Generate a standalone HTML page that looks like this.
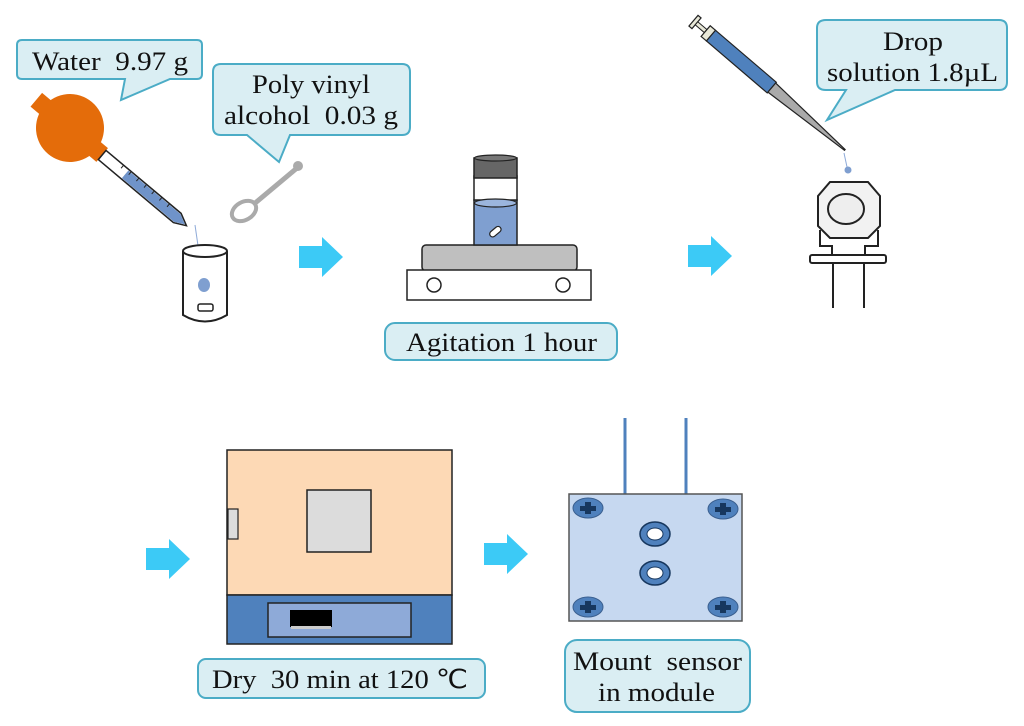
<!DOCTYPE html>
<html><head><meta charset="utf-8"><style>body{margin:0;background:#fff}svg{display:block}text{font-family:"Liberation Serif",serif;fill:#111}</style></head><body>
<svg width="1024" height="726" viewBox="0 0 1024 726" xmlns="http://www.w3.org/2000/svg">
<defs><g id="arr"><path d="M0,9 H23 V0 L44,20 L23,40 V31 H0 Z" fill="#3ccaf6"/></g></defs>
<!-- callouts -->
<path d="M22,40 H197 Q202,40 202,45 V74 Q202,79 197,79 H170 L121,100 L125,79 H22 Q17,79 17,74 V45 Q17,40 22,40 Z" fill="#daeef3" stroke="#4bacc6" stroke-width="2"/>
<text x="32" y="70" font-size="26" textLength="156" lengthAdjust="spacingAndGlyphs">Water&#160;&#160;9.97 g</text>
<path d="M221,64 H402 Q410,64 410,72 V127 Q410,135 402,135 H290 L279,162 L247,135 H221 Q213,135 213,127 V72 Q213,64 221,64 Z" fill="#daeef3" stroke="#4bacc6" stroke-width="2"/>
<text x="252" y="93" font-size="26" textLength="118" lengthAdjust="spacingAndGlyphs">Poly vinyl</text>
<text x="224" y="124" font-size="26" textLength="174" lengthAdjust="spacingAndGlyphs">alcohol&#160;&#160;0.03 g</text>
<path d="M826,20 H999 Q1007,20 1007,28 V82 Q1007,90 999,90 H895 L827,120 L846,90 H826 Q817,90 817,82 V28 Q817,20 826,20 Z" fill="#daeef3" stroke="#4bacc6" stroke-width="2"/>
<text x="883" y="50" font-size="26" textLength="60" lengthAdjust="spacingAndGlyphs">Drop</text>
<text x="827" y="81" font-size="26" textLength="171" lengthAdjust="spacingAndGlyphs">solution 1.8µL</text>
<!-- dropper -->
<g transform="translate(70,128) rotate(40)">
<rect x="-44" y="-9" width="22" height="18" fill="#e46c0a"/>
<circle cx="0" cy="0" r="34" fill="#e46c0a"/>
<rect x="28" y="-9" width="14" height="18" fill="#e46c0a"/>
<path d="M42,-6 L140,-6 L152,0 L140,6 L42,6 Z" fill="#fff" stroke="#222" stroke-width="1.5"/>
<path d="M72,-5 L140,-5 L150,0 L140,5 L72,5 Z" fill="#6f93c9"/>
<g stroke="#222" stroke-width="1"><line x1="65" y1="-6" x2="65" y2="-2"/><line x1="75" y1="-6" x2="75" y2="-2"/><line x1="85" y1="-6" x2="85" y2="-2"/><line x1="95" y1="-6" x2="95" y2="-2"/><line x1="105" y1="-6" x2="105" y2="-2"/><line x1="115" y1="-6" x2="115" y2="-2"/><line x1="125" y1="-6" x2="125" y2="-2"/></g>
</g>
<line x1="195" y1="225" x2="203" y2="280" stroke="#8eaad8" stroke-width="1"/>
<!-- spoon -->
<line x1="297" y1="168" x2="254" y2="204" stroke="#aaa" stroke-width="5" stroke-linecap="round"/>
<circle cx="298" cy="166" r="5" fill="#aaa"/>
<ellipse cx="244" cy="211" rx="13" ry="9" transform="rotate(-30 244 211)" fill="#fff" stroke="#aaa" stroke-width="4"/>
<!-- beaker -->
<path d="M183,251 V315 Q205,328 227,315 V251" fill="#fff" stroke="#222" stroke-width="2"/>
<ellipse cx="205" cy="251" rx="22" ry="6" fill="#fff" stroke="#222" stroke-width="2"/>
<ellipse cx="204" cy="285" rx="6" ry="7" fill="#7f9fd0"/>
<rect x="198" y="304" width="15" height="7" rx="2" fill="#fff" stroke="#222" stroke-width="1.5"/>
<!-- arrows -->
<use href="#arr" x="299" y="237"/>
<use href="#arr" x="688" y="236"/>
<use href="#arr" x="146" y="539"/>
<use href="#arr" x="484" y="534"/>
<!-- stirrer -->
<rect x="422" y="245" width="155" height="26" rx="4" fill="#bfbfbf" stroke="#222" stroke-width="1.5"/>
<rect x="407" y="270" width="184" height="30" fill="#fff" stroke="#222" stroke-width="1.5"/>
<circle cx="434" cy="285" r="7" fill="#fff" stroke="#222" stroke-width="1.5"/>
<circle cx="563" cy="285" r="7" fill="#fff" stroke="#222" stroke-width="1.5"/>
<rect x="474" y="200" width="43" height="45" fill="#7f9fd0" stroke="#222" stroke-width="1.5"/>
<rect x="474" y="176" width="43" height="24" fill="#fff" stroke="#222" stroke-width="1.5"/>
<ellipse cx="495.5" cy="203" rx="21" ry="4" fill="#9bb5dd" stroke="#222" stroke-width="1.2"/>
<rect x="474" y="158" width="43" height="20" fill="#666" stroke="#222" stroke-width="1.5"/>
<ellipse cx="495.5" cy="158" rx="21" ry="3" fill="#777" stroke="#222" stroke-width="1.2"/>
<rect x="489" y="229" width="13" height="6" rx="3" transform="rotate(-40 495 232)" fill="#fff" stroke="#222" stroke-width="1.2"/>
<rect x="385" y="323" width="232" height="37" rx="10" fill="#daeef3" stroke="#4bacc6" stroke-width="2"/>
<text x="406" y="351" font-size="26" textLength="191" lengthAdjust="spacingAndGlyphs">Agitation 1 hour</text>
<!-- syringe -->
<g transform="translate(695,22) rotate(40.5)">
<rect x="-2" y="-7" width="4" height="14" fill="#e8e8d8" stroke="#222" stroke-width="1.2"/>
<rect x="2" y="-2" width="12" height="4" fill="#e8e8d8" stroke="#222" stroke-width="1"/>
<rect x="14" y="-7" width="7" height="14" fill="#e8e8d8" stroke="#222" stroke-width="1.2"/>
<rect x="21" y="-7" width="80" height="14" fill="#4f81bd" stroke="#222" stroke-width="1.2"/>
<path d="M101,-6 L197,-0.5 L197,0.5 L101,6 Z" fill="#aaa" stroke="#222" stroke-width="1.2"/>
</g>
<line x1="844" y1="153" x2="847" y2="167" stroke="#8eaad8" stroke-width="1"/>
<circle cx="848" cy="170" r="3.5" fill="#7f9fd0"/>
<!-- sensor -->
<path d="M830,182 H868 L880,196 V226 L868,238 H830 L818,226 V196 Z" fill="#f2f2f2" stroke="#222" stroke-width="2"/>
<ellipse cx="846" cy="209" rx="18" ry="15" fill="#eee" stroke="#222" stroke-width="2"/>
<path d="M820,230 V246 H832 V255 M878,230 V246 H865 V255" fill="none" stroke="#222" stroke-width="2"/>
<rect x="810" y="255" width="76" height="8" rx="2" fill="#fff" stroke="#222" stroke-width="2"/>
<line x1="833" y1="263" x2="833" y2="308" stroke="#222" stroke-width="2"/>
<line x1="864" y1="263" x2="864" y2="308" stroke="#222" stroke-width="2"/>
<!-- oven -->
<rect x="227" y="450" width="225" height="145" fill="#fdd9b5" stroke="#222" stroke-width="1.5"/>
<rect x="227" y="595" width="225" height="49" fill="#4f81bd" stroke="#222" stroke-width="1.5"/>
<rect x="268" y="603" width="143" height="34" fill="#8eaad8" stroke="#222" stroke-width="1.5"/>
<rect x="290" y="610" width="42" height="17" fill="#000"/>
<rect x="291" y="626" width="40" height="3" fill="#ccc"/>
<rect x="307" y="490" width="64" height="62" fill="#dcdcdc" stroke="#222" stroke-width="1.5"/>
<rect x="228" y="509" width="10" height="30" fill="#dcdcdc" stroke="#222" stroke-width="1.2"/>
<rect x="198" y="659" width="287" height="39" rx="8" fill="#daeef3" stroke="#4bacc6" stroke-width="2"/>
<text x="212" y="688" font-size="26" textLength="256" lengthAdjust="spacingAndGlyphs">Dry&#160;&#160;30 min at 120 ℃</text>
<!-- module -->
<line x1="625" y1="418" x2="625" y2="494" stroke="#4f81bd" stroke-width="3"/>
<line x1="686" y1="418" x2="686" y2="494" stroke="#4f81bd" stroke-width="3"/>
<rect x="569" y="494" width="173" height="127" fill="#c6d8f0" stroke="#555" stroke-width="1.5"/>
<g fill="#4f81bd" stroke="#3a5f8f" stroke-width="1">
<ellipse cx="588" cy="508" rx="15" ry="10"/><ellipse cx="723" cy="509" rx="15" ry="10"/>
<ellipse cx="588" cy="607" rx="15" ry="10"/><ellipse cx="723" cy="607" rx="15" ry="10"/>
</g>
<g fill="#17375e">
<rect x="580" y="506" width="16" height="5"/><rect x="585" y="502" width="6" height="12"/>
<rect x="715" y="507" width="16" height="5"/><rect x="720" y="503" width="6" height="12"/>
<rect x="580" y="605" width="16" height="5"/><rect x="585" y="601" width="6" height="12"/>
<rect x="715" y="605" width="16" height="5"/><rect x="720" y="601" width="6" height="12"/>
</g>
<ellipse cx="655" cy="534" rx="15" ry="12" fill="#4f81bd" stroke="#17375e" stroke-width="1.5"/>
<ellipse cx="655" cy="534" rx="8" ry="6" fill="#fff" stroke="#17375e" stroke-width="1"/>
<ellipse cx="655" cy="573" rx="15" ry="12" fill="#4f81bd" stroke="#17375e" stroke-width="1.5"/>
<ellipse cx="655" cy="573" rx="8" ry="6" fill="#fff" stroke="#17375e" stroke-width="1"/>
<rect x="565" y="640" width="185" height="72" rx="12" fill="#daeef3" stroke="#4bacc6" stroke-width="2"/>
<text x="573" y="670" font-size="26" textLength="169" lengthAdjust="spacingAndGlyphs">Mount&#160;&#160;sensor</text>
<text x="598" y="701" font-size="26" textLength="117" lengthAdjust="spacingAndGlyphs">in module</text>
</svg>
</body></html>
